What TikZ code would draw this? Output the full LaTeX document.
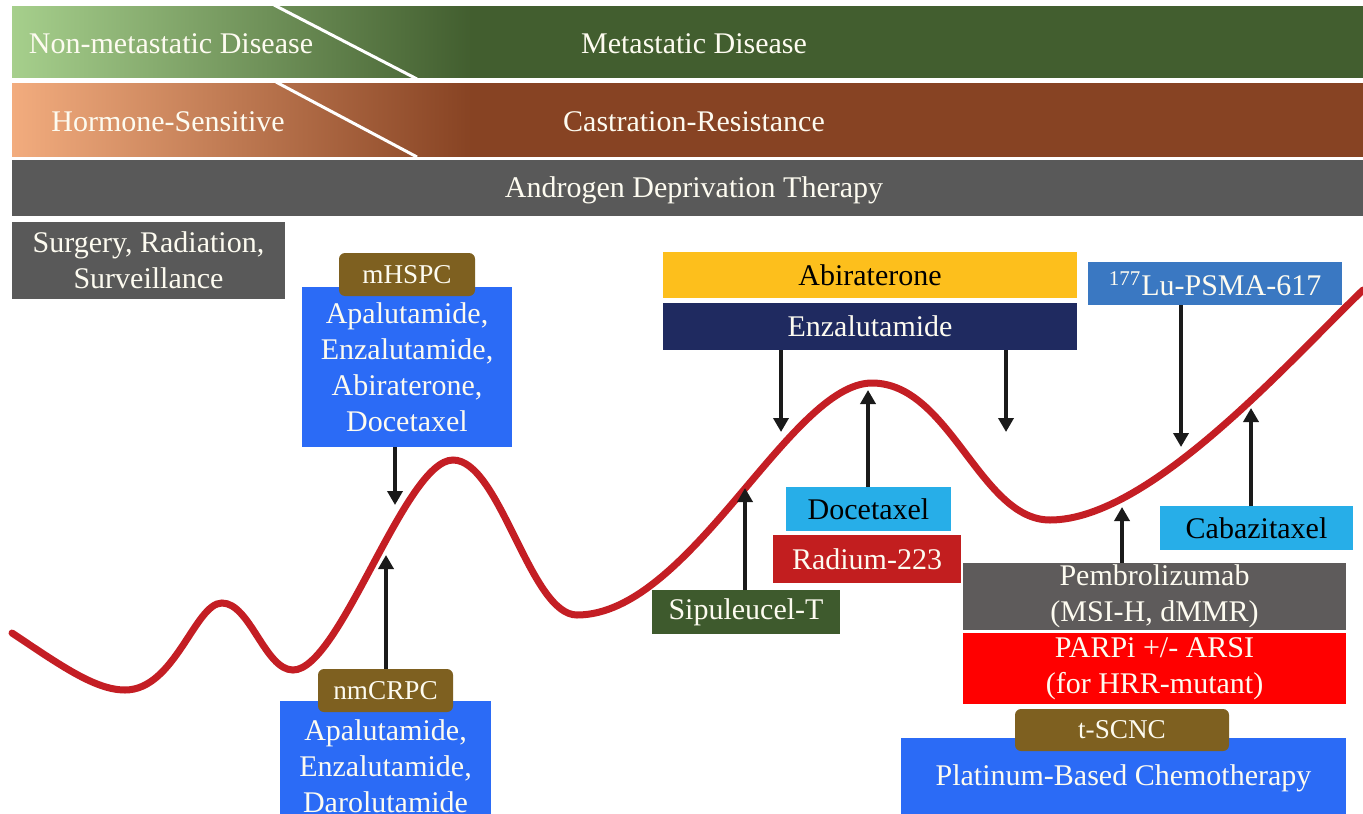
\documentclass[tikz,border=0pt]{standalone}
\usepackage{fontspec}
\setmainfont{Liberation Serif}
\usetikzlibrary{arrows.meta}
\definecolor{gdark}{HTML}{425E2F}
\definecolor{glight}{HTML}{A6CF8C}
\definecolor{odark}{HTML}{874323}
\definecolor{olight}{HTML}{F2AC7E}
\definecolor{bandgray}{HTML}{595959}
\definecolor{boxblue}{HTML}{2B6BF6}
\definecolor{tabbrown}{HTML}{7E6020}
\definecolor{abiyellow}{HTML}{FDBF1C}
\definecolor{enznavy}{HTML}{1F2A60}
\definecolor{cyanbox}{HTML}{27AEE8}
\definecolor{radred}{HTML}{C21E1F}
\definecolor{sipgreen}{HTML}{3E5A2D}
\definecolor{lublue}{HTML}{3A78C2}
\definecolor{pemgray}{HTML}{5E5B5B}
\definecolor{parpred}{HTML}{FF0000}
\definecolor{curvered}{HTML}{C41E24}
\definecolor{arrowc}{HTML}{1A1A1A}
\definecolor{cream}{HTML}{FDFBF0}
\pgfdeclarehorizontalshading{greenband}{100bp}{color(0bp)=(glight); color(25bp)=(glight); color(42bp)=(gdark); color(100bp)=(gdark)}
\pgfdeclarehorizontalshading{orangeband}{100bp}{color(0bp)=(olight); color(25bp)=(olight); color(42bp)=(odark); color(100bp)=(odark)}
\begin{document}
\begin{tikzpicture}[x=0.5pt,y=-0.5pt,
  bx/.style n args={2}{minimum width=#1*0.5pt, minimum height=#2*0.5pt, inner sep=0pt, outer sep=0pt, align=center, font=\fontsize{15}{18}\selectfont, text=cream},
  tab/.style n args={2}{bx={#1}{#2}, fill=tabbrown, rounded corners=3pt, font=\fontsize{13.6}{16}\selectfont},
  bandtext/.style={inner sep=0pt, font=\fontsize{15}{18}\selectfont, text=cream},
  arr/.style={draw=arrowc, line width=2pt, -{Triangle[width=7.5pt,length=7pt]}},
  curve/.style={draw=curvered, line width=3.5pt, line cap=round}]
\useasboundingbox (0,0) rectangle (1363,813);
\clip (0,0) rectangle (1363,813);
\fill[white] (0,0) rectangle (1363,813);
% bands
\shade[shading=greenband] (12,7) rectangle (1363,78);
\draw[white, line width=1.5pt] (274,5) -- (417,79);
\shade[shading=orangeband] (12,84) rectangle (1363,156);
\draw[white, line width=1.5pt] (276,82) -- (417,157);
\fill[bandgray] (12,160) rectangle (1363,216);
\node[bandtext] (nm) at (171,44) {Non-metastatic Disease};
\node[bandtext] (md) at (694,44) {Metastatic Disease};
\node[bandtext] (hs) at (168,122) {Hormone-Sensitive};
\node[bandtext] (cr) at (694,122) {Castration-Resistance};
\node[bandtext] (adt) at (694,190) {Androgen Deprivation Therapy};
% curve
\draw[curve] (12,633) .. controls (60,665) and (95,690) .. (125,690)
  .. controls (175,690) and (195,603) .. (222,603)
  .. controls (250,603) and (265,670) .. (293,670)
  .. controls (340,670) and (405,460) .. (453,460)
  .. controls (500,460) and (530,615) .. (577,615)
  .. controls (690,615) and (790,383) .. (872,383)
  .. controls (950,383) and (980,520) .. (1050,520)
  .. controls (1150,520) and (1290,360) .. (1363,290);
% boxes
\node[bx={273}{77}, fill=bandgray] (surg) at (148.5,260) {Surgery, Radiation,\\Surveillance};
\node[bx={210}{160}, fill=boxblue] (mh) at (407,367) {Apalutamide,\\Enzalutamide,\\Abiraterone,\\Docetaxel};
\node[tab={136}{43}] (mhtab) at (407,274.5) {mHSPC};
\node[bx={211}{130}, fill=boxblue] (nm2) at (385.5,766) {Apalutamide,\\Enzalutamide,\\Darolutamide};
\node[tab={135}{43}] (nmtab) at (385.5,690.5) {nmCRPC};
\node[bx={414}{46}, fill=abiyellow, text=black] (abi) at (870,275) {Abiraterone};
\node[bx={414}{47}, fill=enznavy] (enz) at (870,326.5) {Enzalutamide};
\node[bx={254}{43}, fill=lublue] (lu) at (1215,283.5) {\textsuperscript{177}Lu-PSMA-617};
\node[bx={165}{44}, fill=cyanbox, text=black] (doc) at (868.5,509) {Docetaxel};
\node[bx={188}{48}, fill=radred] (rad) at (867,559) {Radium-223};
\node[bx={188}{44}, fill=sipgreen] (sip) at (746,612) {Sipuleucel-T};
\node[bx={193}{44}, fill=cyanbox, text=black] (cab) at (1256.5,528) {Cabazitaxel};
\node[bx={383}{67}, fill=pemgray] (pem) at (1154.5,596.5) {Pembrolizumab\\(MSI-H, dMMR)};
\node[bx={383}{71}, fill=parpred] (parp) at (1154.5,668.5) {PARPi +/- ARSI\\(for HRR-mutant)};
\node[bx={445}{80}, fill=boxblue] (plat) at (1123.5,778) {Platinum-Based Chemotherapy};
\node[tab={214}{42}] (tscnc) at (1122,730) {t-SCNC};
% arrow end points on the curve
\coordinate (e1) at (395,505);
\coordinate (e2) at (386,555);
\coordinate (e3) at (781,432);
\coordinate (e4) at (1006,432);
\coordinate (e5) at (868,390);
\coordinate (e6) at (745,488);
\coordinate (e7) at (1181,447);
\coordinate (e8) at (1251,408);
\coordinate (e9) at (1122,507);
\draw[arr] (mh.south -| e1) -- (e1);
\draw[arr] (nmtab.north -| e2) -- (e2);
\draw[arr] (enz.south -| e3) -- (e3);
\draw[arr] (enz.south -| e4) -- (e4);
\draw[arr] (doc.north -| e5) -- (e5);
\draw[arr] (sip.north -| e6) -- (e6);
\draw[arr] (lu.south -| e7) -- (e7);
\draw[arr] (cab.north -| e8) -- (e8);
\draw[arr] (pem.north -| e9) -- (e9);
\end{tikzpicture}
\end{document}
